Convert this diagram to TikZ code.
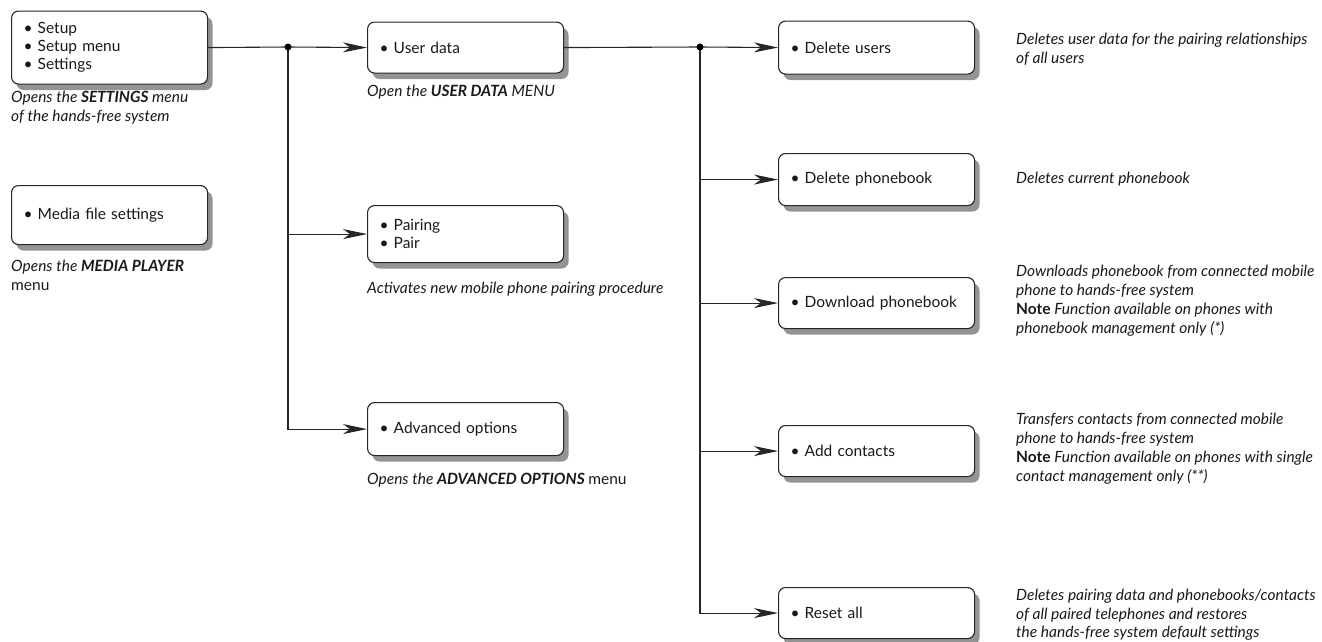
\documentclass[tikz,border=0pt]{standalone}
\usepackage{fontspec}
\setmainfont{Lato}
\usetikzlibrary{arrows.meta,shadows}
\begin{document}
\begin{tikzpicture}[x=1pt,y=-1pt,
  menubox/.style={draw=black!85, line width=1.1pt, rounded corners=7pt, fill=white,
    drop shadow={shadow xshift=5pt, shadow yshift=-6pt, fill=black!42, opacity=1},
    minimum width=196pt, text width=172pt, align=left, inner xsep=12pt,
    font=\fontsize{15.5}{18}\selectfont, anchor=north west, text=black!90},
  captext/.style={anchor=north west, align=left, inner sep=0pt,
    font=\fontsize{15.5}{18.5}\selectfont\itshape, text=black!90},
  conn/.style={line width=1.1pt, draw=black!85},
  arr/.style={conn, -{Stealth[length=24pt,width=10pt,inset=7pt]}},
  jdot/.style={circle, fill=black, inner sep=0pt, minimum size=7pt}]
\useasboundingbox (0,0) rectangle (1322,641);
% left column
\node[menubox, minimum height=73pt] (setup) at (11,10.5) {\textbullet\ Setup\\\textbullet\ Setup menu\\\textbullet\ Settings};
\node[captext] (csetup) at (11,91) {Opens the \textbf{SETTINGS} menu\\of the hands-free system};
\node[menubox, minimum height=59pt] (media) at (11,185) {\textbullet\ Media file settings};
\node[captext] (cmedia) at (11,260) {Opens the \textbf{MEDIA PLAYER}\\{\upshape menu}};
% middle column
\node[menubox, minimum height=51pt] (user) at (367,21.5) {\textbullet\ User data};
\node[captext] (cuser) at (367,85) {Open the \textbf{USER DATA} MENU};
\node[menubox, minimum height=57pt] (pair) at (367,205) {\textbullet\ Pairing\\\textbullet\ Pair};
\node[captext] (cpair) at (367,282) {Activates new mobile phone pairing procedure};
\node[menubox, minimum height=53pt] (adv) at (367,402) {\textbullet\ Advanced options};
\node[captext] (cadv) at (367,473) {Opens the \textbf{ADVANCED OPTIONS} {\upshape menu}};
% right column
\node[menubox, minimum height=53pt] (delu) at (778,20.5) {\textbullet\ Delete users};
\node[menubox, minimum height=52pt] (delp) at (778,153) {\textbullet\ Delete phonebook};
\node[menubox, minimum height=51pt] (down) at (778,277) {\textbullet\ Download phonebook};
\node[menubox, minimum height=51pt] (add) at (778,425) {\textbullet\ Add contacts};
\node[menubox, minimum height=51pt] (reset) at (778,587) {\textbullet\ Reset all};
\node[captext] (cdelu) at (1016,33) {Deletes user data for the pairing relationships\\of all users};
\node[captext] (cdelp) at (1016,172) {Deletes current phonebook};
\node[captext] (cdown) at (1016,265) {Downloads phonebook from connected mobile\\phone to hands-free system\\[1pt]\textbf{\upshape Note} Function available on phones with\\phonebook management only (*)};
\node[captext] (cadd) at (1016,413) {Transfers contacts from connected mobile\\phone to hands-free system\\[1pt]\textbf{\upshape Note} Function available on phones with single\\contact management only (**)};
\node[captext] (creset) at (1016,589) {Deletes pairing data and phonebooks/contacts\\of all paired telephones and restores\\the hands-free system default settings};
% connectors
\coordinate (j1) at (288,47);
\coordinate (j2) at (700,47);
\draw[conn] (setup.east) -- (j1);
\draw[arr] (j1) -- (user.west);
\draw[arr] (j1) |- (adv.west);
\draw[arr] (j1 |- pair.west) -- (pair.west);
\draw[conn] (user.east) -- (j2);
\draw[arr] (j2) -- (delu.west);
\draw[arr] (j2) |- (reset.west);
\draw[arr] (j2 |- delp.west) -- (delp.west);
\draw[arr] (j2 |- down.west) -- (down.west);
\draw[arr] (j2 |- add.west) -- (add.west);
\node[jdot] (d1) at (j1) {};
\node[jdot] (d2) at (j2) {};
\end{tikzpicture}
\end{document}
